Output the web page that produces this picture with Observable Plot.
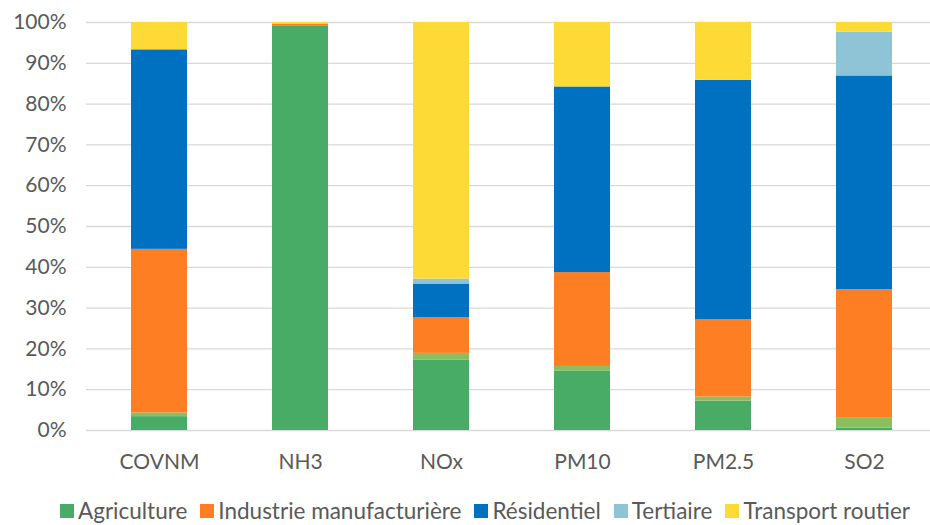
<!DOCTYPE html>
<html>
<head>
<meta charset="utf-8">
<script src="https://cdn.jsdelivr.net/npm/d3@7"></script>
<script src="https://cdn.jsdelivr.net/npm/@observablehq/plot@0.6"></script>
<style>
  body { margin: 0; background: #fff; font-family: Lato, "Open Sans", sans-serif; }
  #chart { width: 930px; }
  .legend { display: flex; justify-content: center; gap: 13px; font-size: 22.5px; color: #595959; margin-top: 16px; padding-left: 40px; font-family: Lato, "Open Sans", sans-serif; line-height: 25px; white-space: nowrap; }
  .legend span.item { display: inline-flex; align-items: center; }
  .legend span.sw { display: inline-block; width: 14px; height: 14px; margin-right: 4px; }
</style>
</head>
<body>
<div id="chart"></div>
<script>
const categories = ["COVNM", "NH3", "NOx", "PM10", "PM2.5", "SO2"];
const series = ["Agriculture", "Autres", "Industrie manufacturière", "Résidentiel", "Tertiaire", "Transport routier"];
const legendSeries = ["Agriculture", "Industrie manufacturière", "Résidentiel", "Tertiaire", "Transport routier"];
const colors = ["#48AC67", "#8BBE5C", "#FD7E23", "#0070C0", "#8FC4D6", "#FEDA36"];
// percentages per category, in category order
const agriculture   = [3.4, 99.2, 17.3, 14.6, 7.2, 0.6];
const autres        = [0.9, 0.0, 1.6, 1.1, 1.0, 2.4];
const industrie     = [40.1, 0.4, 8.7, 23.0, 19.0, 31.5];
const residentiel   = [48.9, 0.0, 8.3, 45.5, 58.6, 52.4];
const tertiaire     = [0.0, 0.0, 1.2, 0.0, 0.0, 10.7];
const transport     = [6.7, 0.4, 62.9, 15.8, 14.2, 2.4];
const yTicks = [0, 10, 20, 30, 40, 50, 60, 70, 80, 90, 100];

const valuesBySeries = [agriculture, autres, industrie, residentiel, tertiaire, transport];
const data = [];
series.forEach((s, i) => categories.forEach((c, j) => data.push({category: c, series: s, value: valuesBySeries[i][j]})));

const chart = Plot.plot({
  width: 930,
  height: 482,
  marginLeft: 86,
  marginRight: -7,
  marginTop: 22,
  marginBottom: 52,
  style: {fontFamily: "Lato, 'Open Sans', sans-serif", fontSize: "21px", color: "#595959"},
  x: {domain: categories, paddingInner: 0.6, paddingOuter: 0.3, label: null},
  y: {domain: [0, 100], label: null},
  color: {domain: series, range: colors},
  marks: [
    Plot.gridY(yTicks, {stroke: "#d9d9d9", strokeOpacity: 1, strokeWidth: 1.3}),
    Plot.barY(data, Plot.stackY({order: series}, {x: "category", y: "value", fill: "series"})),
    Plot.axisX({tickSize: 0, tickPadding: 24, fontSize: 21, fill: "#595959"}),
    Plot.axisY(yTicks, {tickSize: 0, tickPadding: 20, fontSize: 21, fill: "#595959", tickFormat: d => d + "%"})
  ]
});
document.getElementById("chart").appendChild(chart);

const legend = document.createElement("div");
legend.className = "legend";
legendSeries.forEach(s => {
  const item = document.createElement("span");
  item.className = "item";
  const sw = document.createElement("span");
  sw.className = "sw";
  sw.style.background = colors[series.indexOf(s)];
  item.appendChild(sw);
  item.appendChild(document.createTextNode(s));
  legend.appendChild(item);
});
document.getElementById("chart").appendChild(legend);
</script>
</body>
</html>
